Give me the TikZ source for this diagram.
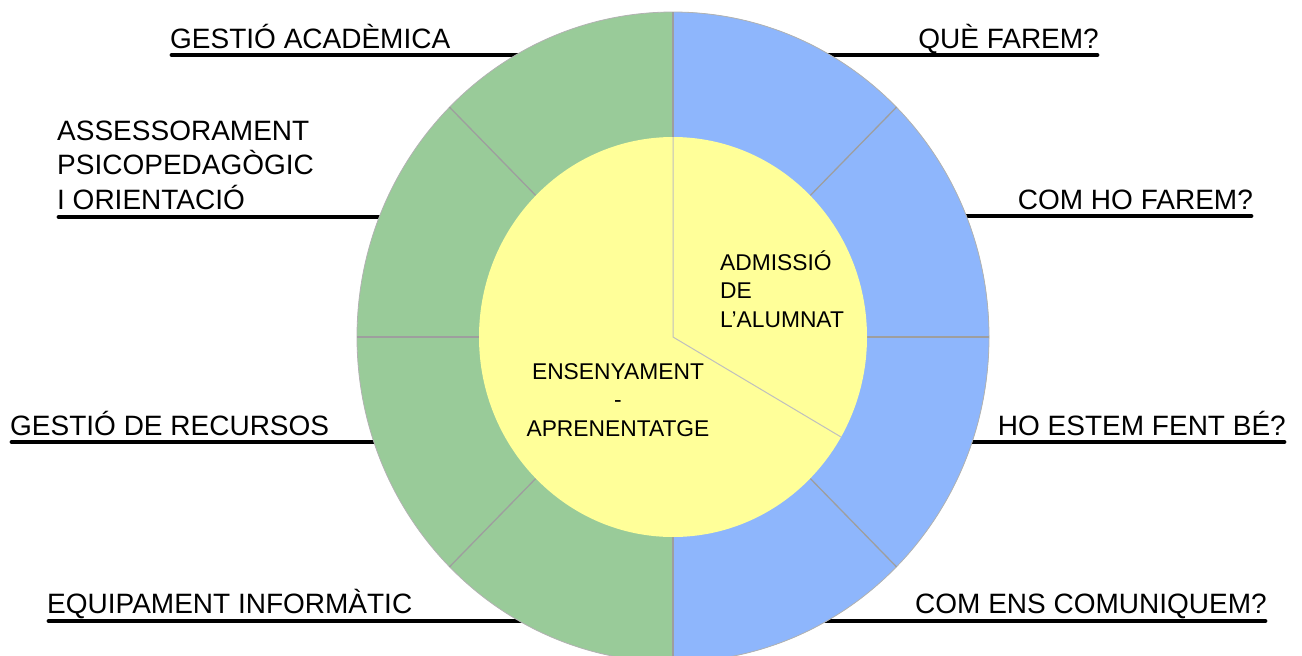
\documentclass[tikz,border=0pt]{standalone}
\usepackage{fontspec}
\setmainfont{Liberation Sans}
\definecolor{anellverd}{RGB}{153,203,153}
\definecolor{anellblau}{RGB}{142,182,252}
\definecolor{nucli}{RGB}{255,255,153}
\begin{document}
\begin{tikzpicture}[x=1pt,y=-1pt,
  etiqueta/.style={inner sep=0pt,font=\fontsize{28}{34.5}\selectfont},
  interior/.style={inner sep=0pt,font=\fontsize{22.8}{28.5}\selectfont},
  subratllat/.style={line width=4.8pt,line cap=round},
  divisio/.style={draw=black!38,line width=1.3pt},
  radi/.style={draw=black!25,line width=1pt}]
\useasboundingbox (0,0) rectangle (1302,656);
\coordinate (c) at (673,337);

\node (acad) at (170,48)[etiqueta,anchor=base west]{GESTIÓ ACADÈMICA};
\node (psico) at (57,209)[etiqueta,anchor=base west,align=left]{ASSESSORAMENT\\PSICOPEDAGÒGIC\\I ORIENTACIÓ};
\node (recursos) at (10,435)[etiqueta,anchor=base west]{GESTIÓ DE RECURSOS};
\node (equip) at (47,613)[etiqueta,anchor=base west]{EQUIPAMENT INFORMÀTIC};
\node (farem) at (1099,48)[etiqueta,anchor=base east]{QUÈ FAREM?};
\node (comho) at (1253,209)[etiqueta,anchor=base east]{COM HO FAREM?};
\node (estem) at (1286,435)[etiqueta,anchor=base east]{HO ESTEM FENT BÉ?};
\node (comens) at (1267,613)[etiqueta,anchor=base east]{COM ENS COMUNIQUEM?};

\draw[subratllat]([xshift=2pt,yshift=-7pt]acad.base west)--++(420,0);
\draw[subratllat]([xshift=2pt,yshift=-8pt]psico.base west)--++(420,0);
\draw[subratllat]([xshift=2pt,yshift=-7pt]recursos.base west)--++(420,0);
\draw[subratllat]([xshift=2pt,yshift=-8pt]equip.base west)--++(520,0);
\draw[subratllat]([xshift=-2pt,yshift=-7pt]farem.base east)--++(-420,0);
\draw[subratllat]([xshift=-2pt,yshift=-7pt]comho.base east)--++(-420,0);
\draw[subratllat]([xshift=-2pt,yshift=-7pt]estem.base east)--++(-420,0);
\draw[subratllat]([xshift=-2pt,yshift=-8pt]comens.base east)--++(-520,0);

\fill[anellverd](c) ellipse[x radius=316,y radius=325];
\begin{scope}
\clip (673,0) rectangle (1000,670);
\fill[anellblau](c) ellipse[x radius=316,y radius=325];
\end{scope}
\draw[black!30,line width=0.8pt](c) ellipse[x radius=316,y radius=325];
\foreach \a in {0,45,...,315}
  \draw[divisio]([shift={(c)}]\a:194 and 200)--([shift={(c)}]\a:316 and 325);
\fill[nucli](c) ellipse[x radius=194,y radius=200];
\draw[radi]([shift={(c)}]-90:194 and 200)--(c)--([shift={(c)}]30:194 and 200);

\node (admissio) at (720,327)[interior,anchor=base west,align=left]{ADMISSIÓ\\DE\\L’ALUMNAT};
\node (ensenyament) at (618,436)[interior,anchor=base,align=center]{ENSENYAMENT\\-\\APRENENTATGE};
\end{tikzpicture}
\end{document}
